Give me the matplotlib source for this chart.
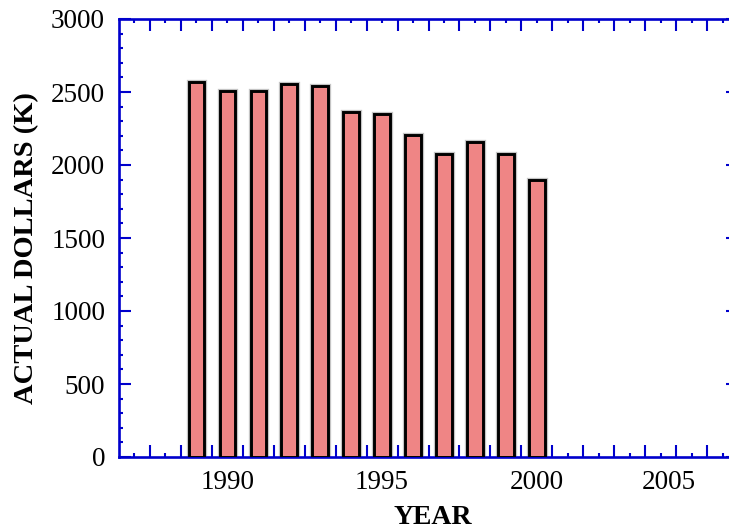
import matplotlib
matplotlib.use("Agg")
import matplotlib.pyplot as plt
import matplotlib.transforms as mtransforms
import numpy as np

years = [1989, 1990, 1991, 1992, 1993, 1994, 1995, 1996, 1997, 1998, 1999, 2000]
dollars = [2570, 2509, 2509, 2552, 2539, 2363, 2347, 2205, 2073, 2155, 2073, 1897]
year_labels = [1990, 1995, 2000, 2005]
y_ticks = [0, 500, 1000, 1500, 2000, 2500, 3000]

W, H = 729, 531
fig = plt.figure(figsize=(W / 100, H / 100), dpi=100)
left, right, top, bottom = 119, 738, 19, 457
ax = fig.add_axes([left / W, (H - bottom) / H, (right - left) / W, (bottom - top) / H])

blue = "#0000CC"
serif = ["Liberation Serif", "DejaVu Serif"]

# bars with slight gray shadow
ax.bar(years, dollars, width=0.5, color="none", edgecolor="#C4C4C4",
       linewidth=3.8, zorder=2)
ax.bar(years, dollars, width=0.5, color="#EF8585", edgecolor="black",
       linewidth=2.1, zorder=3)

ax.set_xlim(1986.5, 2006.5)
ax.set_ylim(0, 3000)

# ticks
ax.set_xticks(np.arange(1987.5, 2006.5, 1.0))
ax.set_xticks(np.arange(1987, 2007, 1.0), minor=True)
ax.set_xticklabels([])
ax.set_yticks(y_ticks)
ax.set_yticks(np.arange(0, 3001, 100), minor=True)
ax.set_yticklabels([str(v) for v in y_ticks], family=serif, fontsize=19.5)

ax.tick_params(which="major", direction="in", length=8.6, width=1.5,
               color=blue, top=True, right=True, pad=10)
ax.tick_params(which="minor", direction="in", length=2.6, width=1.5,
               color=blue, top=True, right=True)
ax.tick_params(axis="y", which="major", pad=10)

for s in ax.spines.values():
    s.set_color(blue)
    s.set_linewidth(1.9)

# x year labels
trans = mtransforms.offset_copy(ax.get_xaxis_transform(), fig=fig, x=0, y=-9.5, units="points")
for yv in year_labels:
    dx = -23 if yv == 2005 else 0
    t = mtransforms.offset_copy(trans, fig=fig, x=dx * 0.72, y=0, units="points")
    ax.text(yv, 0, str(yv), transform=t, ha="center", va="top",
            family=serif, fontsize=19.5)

fig.text(433 / W, 1 - 518 / H, "YEAR", ha="center", va="center",
         family=serif, fontsize=20, fontweight="bold")
fig.text(27 / W, 1 - 248 / H, "ACTUAL DOLLARS (K)", ha="center", va="center",
         rotation=90, family=serif, fontsize=20.5, fontweight="bold")

fig.savefig("out.png", dpi=100)
